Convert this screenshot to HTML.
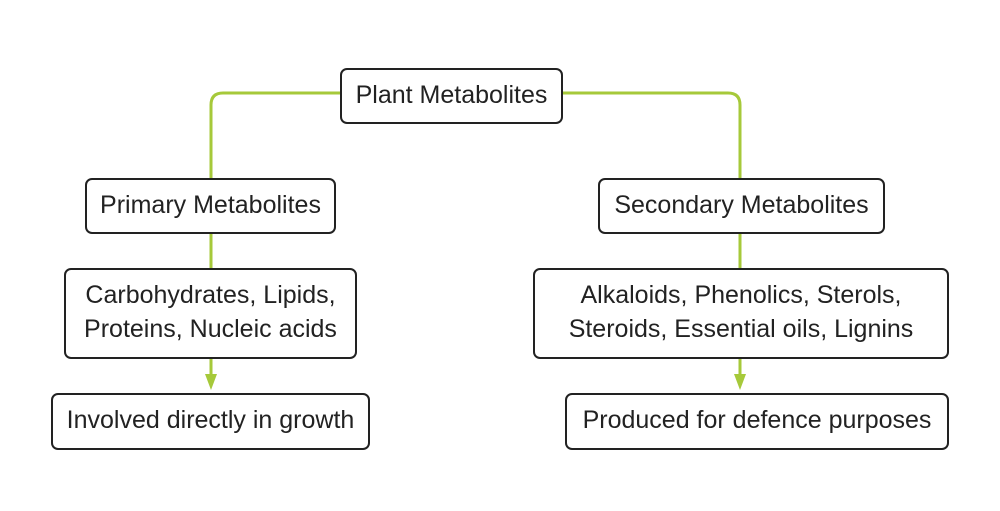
<!DOCTYPE html>
<html><head><style>
html,body{margin:0;padding:0;background:#fff;}
body{width:1000px;height:511px;position:relative;overflow:hidden;font-family:"Liberation Sans",Helvetica,Arial,sans-serif;}
.b{position:absolute;box-sizing:border-box;border:2px solid #222;border-radius:7px;background:#fff;display:flex;align-items:center;justify-content:center;text-align:center;font-size:25px;line-height:34px;color:#222;padding-bottom:3px;white-space:nowrap;}
svg{position:absolute;left:0;top:0;}
</style></head><body>
<svg width="1000" height="511">
<g fill="none" stroke="#a6c93a" stroke-width="3">
<path d="M340 93 H223 Q211 93 211 105 V180"/>
<path d="M562 93 H728 Q740 93 740 105 V180"/>
<path d="M211 232 V270"/>
<path d="M740 232 V270"/>
<path d="M211 357 V376"/>
<path d="M740 357 V376"/>
</g>
<polygon points="205,374 217,374 211,390" fill="#a6c93a"/>
<polygon points="734,374 746,374 740,390" fill="#a6c93a"/>
</svg>
<div class="b" style="left:340px;top:68px;width:223px;height:56px;">Plant Metabolites</div>
<div class="b" style="left:85px;top:178px;width:251px;height:56px;">Primary Metabolites</div>
<div class="b" style="left:598px;top:178px;width:287px;height:56px;">Secondary Metabolites</div>
<div class="b" style="left:64px;top:268px;width:293px;height:91px;">Carbohydrates, Lipids,<br>Proteins, Nucleic acids</div>
<div class="b" style="left:533px;top:268px;width:416px;height:91px;">Alkaloids, Phenolics, Sterols,<br>Steroids, Essential oils, Lignins</div>
<div class="b" style="left:51px;top:393px;width:319px;height:57px;">Involved directly in growth</div>
<div class="b" style="left:565px;top:393px;width:384px;height:57px;">Produced for defence purposes</div>
</body></html>
